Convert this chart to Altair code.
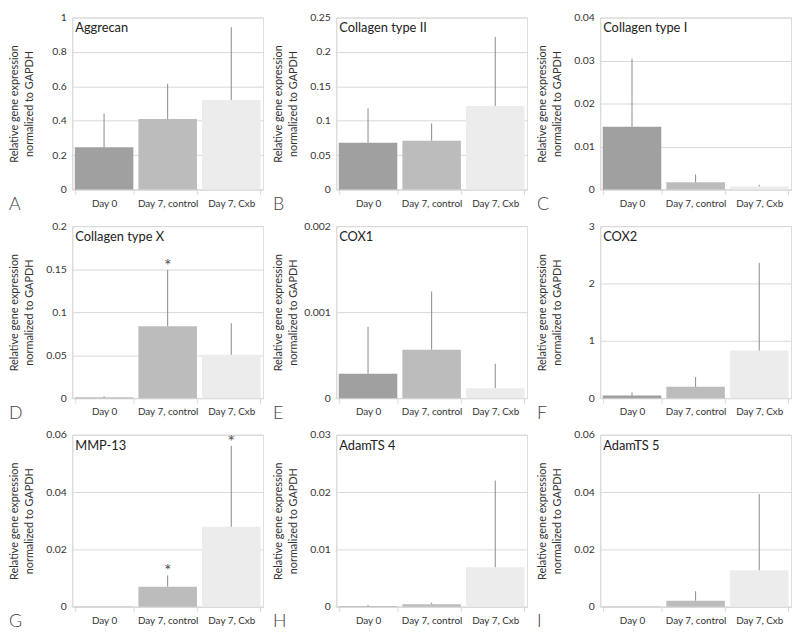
import altair as alt
import pandas as pd

categories = ["Day 0", "Day 7, control", "Day 7, Cxb"]
genes = ["Aggrecan", "Collagen type II", "Collagen type I",
         "Collagen type X", "COX1", "COX2",
         "MMP-13", "AdamTS 4", "AdamTS 5"]
letters = ["A", "B", "C", "D", "E", "F", "G", "H", "I"]

means = [
    [0.245, 0.41, 0.521],
    [0.068, 0.071, 0.1215],
    [0.0146, 0.0017, 0.0007],
    [0.0008, 0.0836, 0.0504],
    [0.000284, 0.000563, 0.000116],
    [0.045, 0.198, 0.83],
    [0.0001, 0.007, 0.0279],
    [0.0001, 0.00045, 0.0069],
    [0.0001, 0.0021, 0.0127],
]
uppers = [
    [0.441, 0.615, 0.944],
    [0.118, 0.096, 0.2217],
    [0.0304, 0.0035, 0.0011],
    [0.0022, 0.149, 0.087],
    [0.00083, 0.00124, 0.0004],
    [0.10, 0.367, 2.36],
    [0.0002, 0.0109, 0.0561],
    [0.0003, 0.0007, 0.022],
    [0.0002, 0.0054, 0.0393],
]
significant = [
    [False, False, False],
    [False, False, False],
    [False, False, False],
    [False, True, False],
    [False, False, False],
    [False, False, False],
    [False, True, True],
    [False, False, False],
    [False, False, False],
]
y_ticks = [
    [0, 0.2, 0.4, 0.6, 0.8, 1],
    [0, 0.05, 0.1, 0.15, 0.2, 0.25],
    [0, 0.01, 0.02, 0.03, 0.04],
    [0, 0.05, 0.1, 0.15, 0.2],
    [0, 0.001, 0.002],
    [0, 1, 2, 3],
    [0, 0.02, 0.04, 0.06],
    [0, 0.01, 0.02, 0.03],
    [0, 0.02, 0.04, 0.06],
]
bar_colors = ["#a0a0a0", "#bcbcbc", "#ececec"]
y_title = ["Relative gene expression", "normalized to GAPDH"]

W, H = 193, 174
FONT = "Lato"


def panel(i):
    df = pd.DataFrame({
        "cat": categories,
        "value": means[i],
        "upper": uppers[i],
        "sig": significant[i],
    })
    ticks = y_ticks[i]
    x = alt.X("cat:N", sort=categories,
              scale=alt.Scale(domain=categories, paddingInner=0.08, paddingOuter=0.04),
              axis=alt.Axis(title=None, labelAngle=0, tickBand="extent",
                            domainColor="#d9d9d9", tickColor="#d9d9d9", tickSize=5,
                            labelPadding=4, labelFontSize=10, labelColor="#333333",
                            labelFont=FONT, grid=False))
    y = alt.Y("value:Q",
              scale=alt.Scale(domain=[0, ticks[-1]], nice=False, zero=True),
              axis=alt.Axis(values=ticks, tickCount=len(ticks) + 4, format="~g",
                            ticks=False, labelOverlap=False, labelBound=False,
                            domainColor="#d9d9d9", gridColor="#d9d9d9",
                            labelFontSize=10.5, labelColor="#333333", labelFont=FONT,
                            labelPadding=6,
                            title=y_title, titleFont=FONT, titleFontSize=11,
                            titleLineHeight=15,
                            titleFontWeight="normal", titleColor="#333333",
                            titleAngle=-90, titleBaseline="top", titleAlign="center",
                            titleX=-64, titleY=H / 2))
    base = alt.Chart(df)
    bars = base.mark_bar().encode(
        x=x, y=y,
        color=alt.Color("cat:N", scale=alt.Scale(domain=categories, range=bar_colors),
                        legend=None),
    )
    err = base.mark_rule(color="#8a8a8a", strokeWidth=1).encode(
        x=alt.X("cat:N", sort=categories),
        y=alt.Y("value:Q"),
        y2="upper:Q",
    )
    stars = base.transform_filter("datum.sig").mark_text(
        text="*", fontSize=18, color="#555555", baseline="alphabetic", dy=2, font=FONT
    ).encode(x=alt.X("cat:N", sort=categories), y=alt.Y("upper:Q"))
    name = alt.Chart(pd.DataFrame({"t": [genes[i]]})).mark_text(
        align="left", baseline="middle", fontSize=13, color="#222222", font=FONT
    ).encode(text="t:N", x=alt.value(3), y=alt.value(11))
    letter = alt.Chart(pd.DataFrame({"t": [letters[i]]})).mark_text(
        align="left", baseline="alphabetic", fontSize=18, color="#444444", font=FONT,
        fontWeight=300
    ).encode(text="t:N", x=alt.value(-64), y=alt.value(H + 21))
    return alt.layer(bars, err, stars, name, letter).properties(width=W, height=H)


chart = alt.concat(*[panel(i) for i in range(9)], columns=3,
                   spacing={"row": 37, "column": 74}, bounds="flush").properties(
    padding={"left": 0, "top": 0, "right": 0, "bottom": 0}
).configure_view(stroke=None).configure(background="white")

chart.save("out.html", embed_options={"renderer": "svg", "actions": False})
